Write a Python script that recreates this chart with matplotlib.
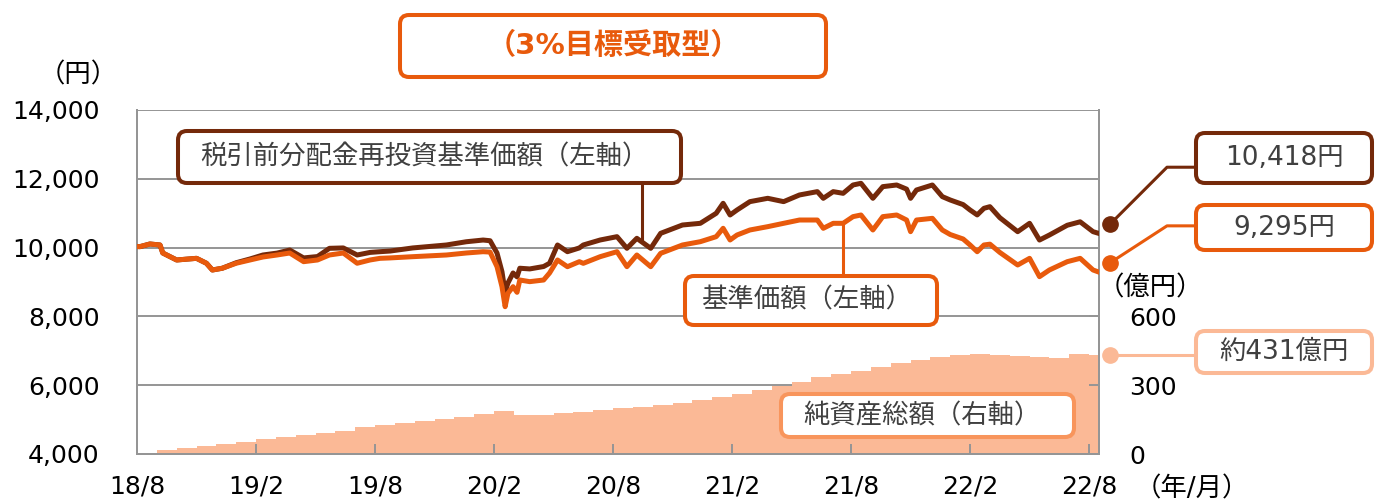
import numpy as np
import matplotlib
matplotlib.use("Agg")
import matplotlib.pyplot as plt
from matplotlib.patches import FancyBboxPatch
from matplotlib.lines import Line2D
from matplotlib.transforms import IdentityTransform

plt.rcParams['font.family'] = ['DejaVu Sans', 'Noto Sans CJK JP']

# ---- データ（月数は 2018/8 からの経過月）----
month_labels = ['18/8', '19/2', '19/8', '20/2', '20/8', '21/2', '21/8', '22/2', '22/8']

nav_m = [0.0, 0.15, 0.65, 1.16, 1.3, 2.0, 3.0, 3.5, 3.8, 4.3, 5.0, 5.7, 6.35, 7.06, 7.7, 8.4, 9.1, 9.7,
         10.4, 11.1, 11.75, 12.25, 12.76, 13.9, 15.6, 16.6, 17.45, 17.8, 18.15, 18.4, 18.56, 18.7, 18.96,
         19.16, 19.3, 19.8, 20.5, 20.8, 21.2, 21.7, 22.3, 22.5, 23.35, 24.2, 24.7, 25.2, 25.9, 26.4, 27.5,
         28.4, 29.2, 29.55, 29.9, 30.25, 30.9, 31.8, 32.6, 33.4, 34.3, 34.6, 35.1, 35.6, 36.1, 36.5, 37.1,
         37.6, 38.3, 38.8, 39.0, 39.3, 40.1, 40.6, 41.0, 41.65, 42.0, 42.36, 42.7, 43.0, 43.5, 44.4, 45.0,
         45.5, 46.0, 46.9, 47.55, 48.2, 48.46]
# 基準価額
nav = [10030, 10028, 10105, 10076, 9843, 9640, 9688, 9545, 9349, 9400, 9545, 9640, 9727, 9785, 9843, 9591,
       9640, 9785, 9843, 9545, 9640, 9688, 9700, 9736, 9785, 9843, 9881, 9870, 9445, 8864, 8282, 8670,
       8864, 8700, 9058, 9010, 9058, 9262, 9640, 9445, 9591, 9543, 9736, 9881, 9445, 9785, 9445, 9834,
       10076, 10172, 10318, 10561, 10221, 10366, 10512, 10609, 10706, 10802, 10802, 10561, 10706, 10706,
       10900, 10948, 10512, 10900, 10948, 10802, 10463, 10802, 10851, 10512, 10380, 10250, 10076, 9880,
       10076, 10100, 9860, 9494, 9688, 9155, 9349, 9591, 9688, 9349, 9295]
# 税引前分配金再投資基準価額
nav_re = [10030, 10028, 10105, 10076, 9843, 9640, 9688, 9545, 9349, 9400, 9560, 9670, 9785, 9840, 9930,
          9700, 9740, 9979, 9990, 9785, 9860, 9881, 9900, 9990, 10076, 10170, 10220, 10200, 9843, 9300,
          8700, 8970, 9262, 9150, 9400, 9380, 9450, 9545, 10076, 9881, 9990, 10076, 10221, 10318, 9979,
          10270, 9979, 10415, 10657, 10706, 10997, 11288, 10948, 11093, 11336, 11433, 11336, 11530, 11627,
          11433, 11627, 11578, 11820, 11869, 11433, 11772, 11820, 11700, 11433, 11675, 11820, 11482, 11384,
          11250, 11093, 10950, 11142, 11190, 10870, 10463, 10706, 10220, 10366, 10650, 10750, 10463, 10418]

# 純資産総額（億円、月次）
assets = [5, 18, 28, 36, 44, 52, 66, 74, 82, 92, 102, 116, 126, 134, 142, 152, 162, 176, 186, 168, 172,
          178, 185, 192, 200, 205, 212, 222, 235, 248, 262, 280, 298, 316, 334, 350, 362, 380, 398, 412,
          424, 432, 435, 432, 428, 424, 420, 436, 431]

brown = '#74290A'
orange = '#E85A0C'
peach = '#FBB996'
peach_edge = '#F8955C'
gray = '#959595'
txt = '#404040'

W, H = 1382, 504
fig = plt.figure(figsize=(W / 100, H / 100), dpi=100)
ax = fig.add_axes([137 / W, 1 - 454 / H, (1099 - 137) / W, (454 - 110) / H])
ax2 = ax.twinx()

# 純資産総額（右軸）
am = list(range(len(assets))) + [nav_m[-1]]
av = assets + [assets[-1]]
ax2.fill_between(am, 0, av, step='post', color=peach, lw=0)
ax2.set_ylim(0, 1500)
ax2.set_yticks([0, 300, 600])
ax2.tick_params(axis='y', direction='in', length=7, width=1.4, color=gray, labelsize=18, pad=22)

ax.plot(nav_m, nav_re, color=brown, lw=3.6, solid_joinstyle='round', zorder=3)
ax.plot(nav_m, nav, color=orange, lw=3.6, solid_joinstyle='round', zorder=4)
ax.set_zorder(ax2.get_zorder() + 1)
ax.patch.set_visible(False)
ax2.patch.set_visible(False)

ax.set_xlim(0, 48.5)
ax.set_ylim(4000, 14000)
ax.set_yticks(range(4000, 14001, 2000))
ax.set_yticklabels([f'{v:,}' for v in range(4000, 14001, 2000)])
ax.set_xticks(range(0, 49, 6))
ax.set_xticklabels(month_labels)
ax.tick_params(axis='y', length=0, labelsize=18, pad=27)
ax.tick_params(axis='x', direction='in', length=7, width=1.4, color=gray, labelsize=18, pad=15)

# グリッドは面の下に
for v in range(6000, 14001, 2000):
    ax2.axhline((v - 4000) * 0.15, color=gray, lw=1.4, zorder=0)
for a in (ax, ax2):
    for s in a.spines.values():
        s.set_color(gray)
        s.set_linewidth(1.4)
    a.spines['top'].set_visible(False)

fig.text(78 / W, 1 - 75 / H, '（円）', ha='center', va='center', fontsize=19)
fig.text(1150 / W, 1 - 288 / H, '（億円）', ha='center', va='center', fontsize=19)
fig.text(1192 / W, 1 - 489 / H, '（年/月）', ha='center', va='center', fontsize=19)


def box(x0, y0, x1, y1, ec, lw=2.9):
    p = FancyBboxPatch((x0, H - y1), x1 - x0, y1 - y0,
                       boxstyle='round,pad=0,rounding_size=9', transform=IdentityTransform(),
                       fc='white', ec=ec, lw=lw, zorder=6)
    fig.add_artist(p)


def label(x, y, s, **kw):
    fig.text(x / W, 1 - y / H, s, ha='center', va='center', zorder=7, **kw)


def leader(xs, ys, color, lw=2.2):
    fig.add_artist(Line2D(xs, [H - y for y in ys], transform=IdentityTransform(),
                          color=color, lw=lw, zorder=5, solid_capstyle='butt'))


def data_px(m, v):
    x, y = ax.transData.transform((m, v))
    return x, H - y


# タイトル
box(400, 15, 826, 77, orange)
label(613, 46, '（3%目標受取型）', fontsize=21, fontweight='bold', color=orange)

# 税引前分配金再投資基準価額
lx = 642
_, ly = data_px((lx - 137) / 19.83, np.interp((lx - 137) / 19.83, nav_m, nav_re))
leader([lx, lx], [183, ly], brown)
box(178, 131, 681, 183, brown)
label(424, 157, '税引前分配金再投資基準価額（左軸）', fontsize=19, color=txt)

# 基準価額
lx = 843
_, ly = data_px((lx - 137) / 19.83, np.interp((lx - 137) / 19.83, nav_m, nav))
leader([lx, lx], [ly, 276], orange)
box(685, 276, 937, 325, orange)
label(807, 300, '基準価額（左軸）', fontsize=19, color=txt)

# 純資産総額
box(781, 394, 1074, 437, peach_edge)
label(922, 416, '純資産総額（右軸）', fontsize=19, color=txt)

# 右側の最新値ラベル
end_m = 49.07
_, yb = data_px(end_m, nav_re[-1])
_, yo = data_px(end_m, nav[-1])
ya = H - ax2.transData.transform((end_m, assets[-1]))[1]
yb -= 9
yo -= 9
xm = 1110
for y, c in ((yb, brown), (yo, orange), (ya, peach)):
    fig.add_artist(Line2D([xm], [H - y], transform=IdentityTransform(), marker='o', ms=11,
                          color=c, zorder=8))
leader([xm, 1167, 1196], [yb, yb - 57, yb - 57], brown)
leader([xm, 1167, 1196], [yo, yo - 37, yo - 37], orange)
leader([xm, 1196], [ya, ya], peach)

box(1196, 133, 1372, 183, brown)
label(1284, 158, f'{nav_re[-1]:,}円', fontsize=19, color=txt)
box(1196, 205, 1372, 250, orange)
label(1284, 228, f'{nav[-1]:,}円', fontsize=19, color=txt)
box(1196, 331, 1372, 373, peach)
label(1284, 352, f'約{assets[-1]}億円', fontsize=19, color=txt)

fig.savefig('out.png', dpi=100)
